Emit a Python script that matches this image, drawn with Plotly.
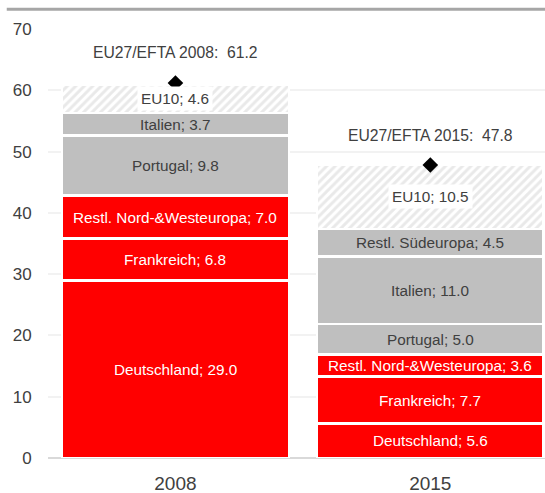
import plotly.graph_objects as go

years = ["2008", "2015"]
regions = ["Deutschland", "Frankreich", "Restl. Nord-&Westeuropa", "Portugal",
           "Italien", "Restl. Südeuropa", "EU10"]
values = {
    "Deutschland": [29.0, 5.6],
    "Frankreich": [6.8, 7.7],
    "Restl. Nord-&Westeuropa": [7.0, 3.6],
    "Portugal": [9.8, 5.0],
    "Italien": [3.7, 11.0],
    "Restl. Südeuropa": [0.0, 4.5],
    "EU10": [4.6, 10.5],
}
totals = [61.2, 47.8]
total_labels = ["EU27/EFTA 2008:  61.2", "EU27/EFTA 2015:  47.8"]

RED = "#ff0000"
GRAY = "#bfbfbf"
TXT = "#404040"
FONT = "Liberation Sans Narrow, Arial Narrow, Liberation Sans, Arial, sans-serif"

colors = {
    "Deutschland": RED, "Frankreich": RED, "Restl. Nord-&Westeuropa": RED,
    "Portugal": GRAY, "Italien": GRAY, "Restl. Südeuropa": GRAY, "EU10": "white",
}

fig = go.Figure()
annotations = []
cum = [0.0, 0.0]
for r in regions:
    vals = values[r]
    if r == "EU10":
        marker = dict(color="white", line=dict(color="white", width=2.5),
                      pattern=dict(shape="/", fgcolor="#d4d4d4", bgcolor="white",
                                   size=6, solidity=0.5))
    else:
        marker = dict(color=colors[r], line=dict(color="white", width=2.5))
    fig.add_trace(go.Bar(x=years, y=vals, name=r, marker=marker, showlegend=False,
                         hoverinfo="skip"))
    for i, v in enumerate(vals):
        if v <= 0:
            continue
        mid = cum[i] + v / 2
        txt = f"{r}; {v:.1f}".replace("&", "&amp;")
        a = dict(x=i, y=mid, xref="x", yref="y", text=txt, showarrow=False,
                 font=dict(family=FONT, size=15.3,
                           color="white" if colors[r] == RED else TXT),
                 xanchor="center", yanchor="middle")
        if r == "EU10":
            a.update(bgcolor="white", borderpad=3)
        annotations.append(a)
        cum[i] += v

fig.add_trace(go.Scatter(x=years, y=totals, mode="markers", showlegend=False,
                         marker=dict(symbol="diamond", size=12, color="black"),
                         hoverinfo="skip"))
for i, t in enumerate(totals):
    annotations.append(dict(x=i, y=t, xref="x", yref="y", text=total_labels[i],
                            showarrow=False, yshift=30,
                            font=dict(family=FONT, size=15.7, color=TXT),
                            xanchor="center", yanchor="middle"))

fig.update_layout(
    width=545, height=493,
    margin=dict(l=48, r=0, t=29, b=35),
    barmode="stack", bargap=0.11,
    plot_bgcolor="white", paper_bgcolor="white",
    annotations=annotations,
    shapes=[dict(type="line", xref="paper", yref="paper",
                 x0=-0.083, x1=1.0, y0=1.046, y1=1.046,
                 line=dict(color="#a6a6a6", width=3))],
    xaxis=dict(type="category", range=[-0.5, 1.45], showgrid=False, showline=False,
               automargin=False,
               ticks="outside", ticklen=8, tickcolor="rgba(0,0,0,0)",
               tickfont=dict(family=FONT, size=19, color=TXT)),
    yaxis=dict(range=[0, 70], tickvals=list(range(0, 71, 10)), showgrid=True,
               automargin=False,
               gridcolor="#f2f2f2", gridwidth=2, zeroline=True,
               zerolinecolor="#d9d9d9", zerolinewidth=2,
               ticks="outside", ticklen=12, tickcolor="rgba(0,0,0,0)",
               tickfont=dict(family=FONT, size=17, color=TXT)),
)

fig.write_html("out.html", config={"displayModeBar": False},
               post_script="document.body.style.margin='0';")
